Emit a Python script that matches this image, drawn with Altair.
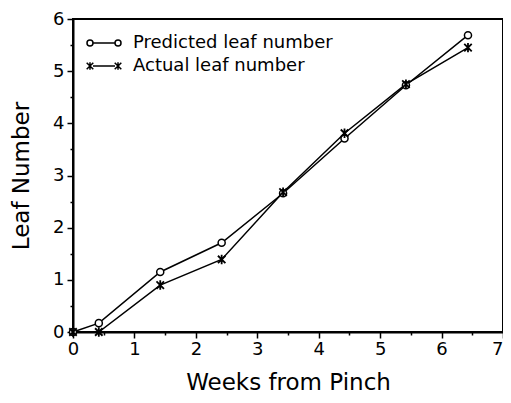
import altair as alt
import pandas as pd

weeks = [0, 0.42, 1.42, 2.42, 3.42, 4.42, 5.42, 6.43]
predicted = [0, 0.17, 1.15, 1.71, 2.66, 3.71, 4.73, 5.69]
actual = [0, 0.0, 0.9, 1.39, 2.68, 3.81, 4.75, 5.45]
series_names = ["Predicted leaf number", "Actual leaf number"]
x_major = [0, 1, 2, 3, 4, 5, 6, 7]
x_minor = [0.5, 1.5, 2.5, 3.5, 4.5, 5.5, 6.5]
y_major = [0, 1, 2, 3, 4, 5, 6]
y_minor = [0.5, 1.5, 2.5, 3.5, 4.5, 5.5]

pred_df = pd.DataFrame({"weeks": weeks, "leaf": predicted, "series": series_names[0]})
act_df = pd.DataFrame({"weeks": weeks, "leaf": actual, "series": series_names[1]})

FONT = "DejaVu Sans"
xs = alt.Scale(domain=[0, 7], nice=False, zero=False)
ys = alt.Scale(domain=[0, 6], nice=False)

x_axis = alt.Axis(values=x_major, format="d", title="Weeks from Pinch", orient="bottom",
                  tickSize=6, tickWidth=1.5, domainWidth=2, labelFontSize=18,
                  titleFontSize=23, titleFontWeight="normal", labelPadding=2,
                  titlePadding=13, grid=False, labelFlush=False,
                  labelAlign=alt.expr("datum.value == 7 ? 'right' : 'center'"))
y_axis = alt.Axis(values=y_major, format="d", title="Leaf Number", orient="left",
                  tickSize=6, tickWidth=1.5, domainWidth=2, labelFontSize=18,
                  titleFontSize=23, titleFontWeight="normal", labelPadding=3,
                  titlePadding=19, grid=False)
x_axis_minor = alt.Axis(values=x_minor, labels=False, title=None, orient="bottom",
                        tickSize=3, tickWidth=1.5, domain=False, grid=False)
y_axis_minor = alt.Axis(values=y_minor, labels=False, title=None, orient="left",
                        tickSize=3, tickWidth=1.5, domain=False, grid=False)

circ_legend = ("M-5.67,0A1,1,0,1,0,-3.67,0A1,1,0,1,0,-5.67,0"
               "M-3.67,0L3.67,0"
               "M3.67,0A1,1,0,1,0,5.67,0A1,1,0,1,0,3.67,0")
star_legend = ("M-5.77,-1.1L-3.57,1.1M-5.77,1.1L-3.57,-1.1M-4.67,-1.25L-4.67,1.25"
               "M-3.67,0L3.67,0"
               "M3.57,-1.1L5.77,1.1M3.57,1.1L5.77,-1.1M4.67,-1.25L4.67,1.25")
star_shape = "M-1,-1L1,1M-1,1L1,-1M0,-1.25L0,1.25"

leg_common = dict(title=None, orient="none", labelFontSize=18, labelFont=FONT,
                  symbolSize=36, symbolStrokeWidth=1.5, labelOffset=20, labelLimit=1000,
                  symbolFillColor="transparent", padding=0, labelColor="black")

pred_color = alt.Color("series:N", scale=alt.Scale(domain=[series_names[0]], range=["black"]),
                       legend=alt.Legend(symbolType=circ_legend, legendX=22, legendY=15,
                                         **leg_common))
act_stroke = alt.Stroke("series:N", scale=alt.Scale(domain=[series_names[1]], range=["black"]),
                        legend=alt.Legend(symbolType=star_legend, legendX=22, legendY=38,
                                          **leg_common))

axes_layer = alt.Chart(pred_df).mark_point(opacity=0).encode(
    x=alt.X("weeks:Q", scale=xs, axis=x_axis),
    y=alt.Y("leaf:Q", scale=ys, axis=y_axis),
)
minor_layer = alt.Chart(pred_df).mark_point(opacity=0).encode(
    x=alt.X("weeks:Q", scale=xs, axis=x_axis_minor),
    y=alt.Y("leaf:Q", scale=ys, axis=y_axis_minor),
)

pred_line = alt.Chart(pred_df).mark_line(strokeWidth=1.5).encode(
    x=alt.X("weeks:Q", scale=xs, axis=None),
    y=alt.Y("leaf:Q", scale=ys, axis=None),
    color=pred_color,
)
pred_pts = alt.Chart(pred_df).mark_point(shape="circle", size=50, filled=False,
                                         strokeWidth=1.5, opacity=1, fill="white").encode(
    x=alt.X("weeks:Q", scale=xs, axis=None),
    y=alt.Y("leaf:Q", scale=ys, axis=None),
    color=pred_color,
)
act_line = alt.Chart(act_df).mark_line(strokeWidth=1.5).encode(
    x=alt.X("weeks:Q", scale=xs, axis=None),
    y=alt.Y("leaf:Q", scale=ys, axis=None),
    stroke=act_stroke,
)
act_pts = alt.Chart(act_df).mark_point(shape=star_shape, size=56, filled=False,
                                       strokeWidth=1.8, opacity=1).encode(
    x=alt.X("weeks:Q", scale=xs, axis=None),
    y=alt.Y("leaf:Q", scale=ys, axis=None),
    stroke=act_stroke,
)

chart = alt.layer(axes_layer, minor_layer, pred_line, act_line, pred_pts, act_pts).resolve_axis(
    x="independent", y="independent"
).properties(
    width=430, height=313,
    autosize=alt.AutoSizeParams(type="none"),
    padding={"left": 65, "top": 11, "right": 0, "bottom": 63},
).configure(font=FONT, background="white").configure_view(
    stroke="black", strokeWidth=2
).configure_axis(
    domainColor="black", tickColor="black", labelColor="black", titleColor="black",
    labelFont=FONT, titleFont=FONT
)

chart.save("out.html", embed_options={"renderer": "svg", "actions": False})
